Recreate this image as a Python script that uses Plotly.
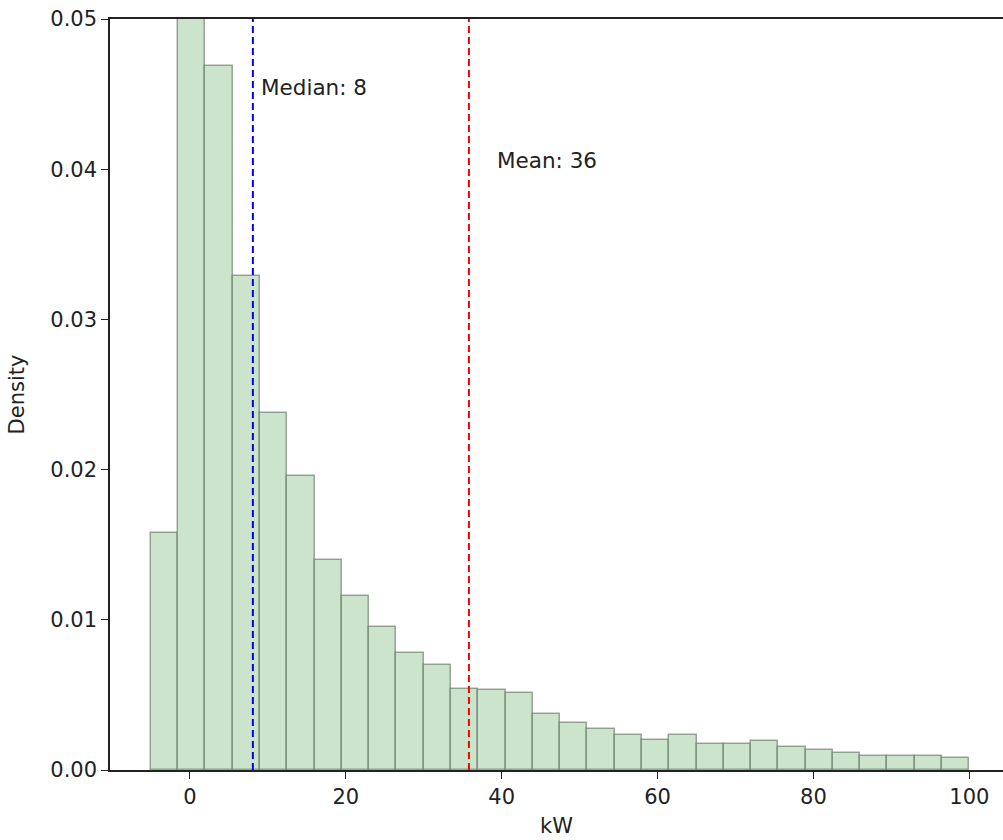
import plotly.graph_objects as go

# Histogram data (density), 30 bins from -5 to 100 kW
bin_start = -5.0
bin_width = 3.5
density = [0.0158, 0.0520, 0.0469, 0.0329, 0.0238, 0.0196, 0.0140, 0.0116,
           0.0095, 0.0078, 0.0070, 0.0054, 0.0053, 0.0051, 0.0037, 0.0031,
           0.0027, 0.0023, 0.0020, 0.0023, 0.0017, 0.0017, 0.0019, 0.0015,
           0.0013, 0.0011, 0.0009, 0.0009, 0.0009, 0.0008]
median_kw = 8.08
mean_kw = 35.8
median_label = "Median: 8"
mean_label = "Mean: 36"
x_ticks = [0, 20, 40, 60, 80, 100]
y_ticks = [0.00, 0.01, 0.02, 0.03, 0.04, 0.05]

centers = [bin_start + bin_width * (i + 0.5) for i in range(len(density))]

FONT = "DejaVu Sans"
FS = 21

fig = go.Figure()
fig.add_trace(go.Bar(
    x=centers, y=density, width=bin_width,
    marker=dict(color="rgb(204,228,204)",
                line=dict(color="rgba(80,100,80,0.55)", width=1.5)),
    showlegend=False,
))

fig.add_shape(type="line", x0=median_kw, x1=median_kw, y0=0, y1=1, yref="paper",
              line=dict(color="blue", width=2, dash="7px,4px"))
fig.add_shape(type="line", x0=mean_kw, x1=mean_kw, y0=0, y1=1, yref="paper",
              line=dict(color="red", width=2, dash="7px,4px"))

fig.add_annotation(x=median_kw * 1.1, y=0.04547, text=median_label, showarrow=False,
                   xanchor="left", yanchor="middle",
                   font=dict(family=FONT, size=21.5, color="#222"))
fig.add_annotation(x=mean_kw * 1.095, y=0.0406, text=mean_label, showarrow=False,
                   xanchor="left", yanchor="middle",
                   font=dict(family=FONT, size=21.5, color="#222"))

fig.update_layout(
    width=1003, height=840,
    margin=dict(l=110, r=0, t=19, b=70),
    plot_bgcolor="white", paper_bgcolor="white",
    font=dict(family=FONT, size=FS, color="#222"),
    bargap=0,
    xaxis=dict(range=[-10.25, 104.32], tickvals=x_ticks, ticks="outside", ticklen=7,
               tickcolor="#222", showline=True, linecolor="#222", linewidth=1.5,
               mirror=True, showgrid=False, zeroline=False,
               title=dict(text="kW", standoff=10, font=dict(size=FS))),
    yaxis=dict(range=[0, 0.05], tickvals=y_ticks, tickformat=".2f", ticks="outside",
               ticklen=7, tickcolor="#222", showline=True, linecolor="#222",
               linewidth=1.5, showgrid=False, zeroline=False,
               title=dict(text="Density", standoff=20, font=dict(size=FS))),
)

fig.write_html("out.html")
